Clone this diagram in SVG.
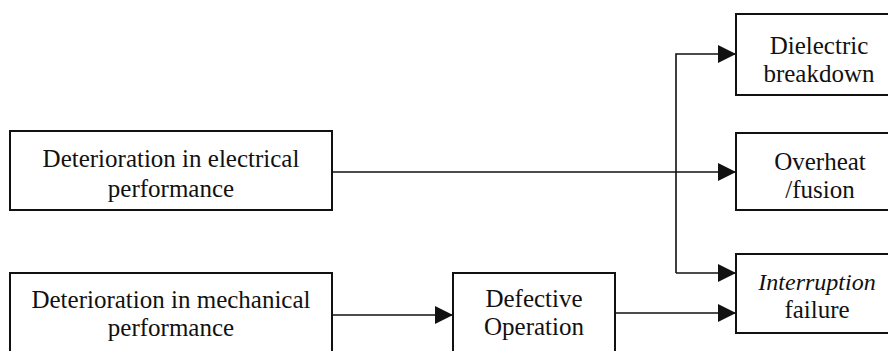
<svg xmlns="http://www.w3.org/2000/svg" width="888" height="351" viewBox="0 0 888 351">
<style>
.box{fill:#fff;stroke:#111;stroke-width:2}
.t{font-family:"Liberation Serif","Times New Roman",serif;font-size:25px;fill:#111;text-anchor:middle}
.i{font-style:italic;font-size:24px}
.c{fill:none;stroke:#111;stroke-width:1.6}
</style>
<defs>
<marker id="ah" markerWidth="18" markerHeight="18" refX="18" refY="9" orient="auto" markerUnits="userSpaceOnUse">
<path d="M0,0 L18,9 L0,18 Z" fill="#111"/>
</marker>
</defs>
<rect width="888" height="351" fill="#fff"/>
<g id="connectors">
<path class="c" d="M332,172 H736" marker-end="url(#ah)"/>
<path class="c" d="M676,273 V54 H736" marker-end="url(#ah)"/>
<path class="c" d="M676,273 H736" marker-end="url(#ah)"/>
<path class="c" d="M332,315 H453" marker-end="url(#ah)"/>
<path class="c" d="M615,313 H736" marker-end="url(#ah)"/>
</g>
<g id="electrical">
<rect class="box" x="10" y="131" width="322" height="79"/>
<text class="t" x="171" y="167">Deterioration in electrical</text>
<text class="t" x="171" y="197">performance</text>
</g>
<g id="mechanical">
<rect class="box" x="10" y="273" width="322" height="90"/>
<text class="t" x="171" y="308">Deterioration in mechanical</text>
<text class="t" x="171" y="336">performance</text>
</g>
<g id="defective">
<rect class="box" x="453" y="273" width="162" height="90"/>
<text class="t" x="534" y="307">Defective</text>
<text class="t" x="534" y="335">Operation</text>
</g>
<g id="dielectric">
<rect class="box" x="736" y="14" width="170" height="81"/>
<text class="t" x="819" y="54">Dielectric</text>
<text class="t" x="819" y="82">breakdown</text>
</g>
<g id="overheat">
<rect class="box" x="736" y="133" width="170" height="77"/>
<text class="t" x="820" y="170">Overheat</text>
<text class="t" x="820" y="198">/fusion</text>
</g>
<g id="interruption">
<rect class="box" x="736" y="254" width="170" height="79"/>
<text class="t i" x="817" y="290">Interruption</text>
<text class="t" x="817" y="318">failure</text>
</g>
</svg>
